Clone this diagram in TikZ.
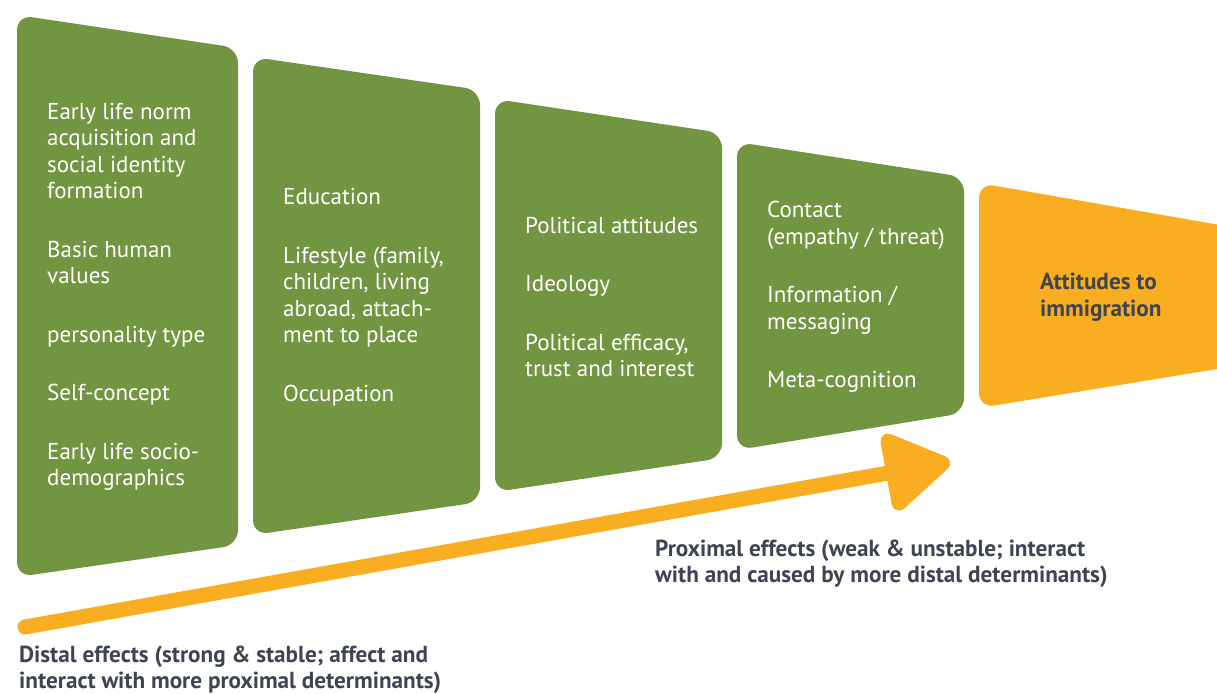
\documentclass[tikz,border=0pt]{standalone}
\usepackage{fontspec}
\setmainfont{PT Sans}
\usetikzlibrary{arrows.meta}

\begin{document}
\begin{tikzpicture}[x=1pt, y=-1pt,
  greentext/.style={anchor=west, inner sep=0pt, align=left, text=white,
    font=\fontsize{23}{26.5}\selectfont},
  darktext/.style={anchor=west, inner sep=0pt, align=left, text=darkgray,
    font=\bfseries\fontsize{23.2}{26.5}\selectfont}]

% Define colors
\definecolor{boxgreen}{RGB}{114, 149, 65}
\definecolor{boxorange}{RGB}{249, 173, 32}
\definecolor{darkgray}{RGB}{62, 68, 82}

\useasboundingbox (0, 0) rectangle (1217, 693);

% Draw the boxes
\fill[boxgreen, rounded corners=15pt] (17, 15) -- (238, 48) -- (238, 545) -- (17, 577) -- cycle;
\fill[boxgreen, rounded corners=15pt] (253, 57) -- (480, 90) -- (480, 502) -- (253, 535) -- cycle;
\fill[boxgreen, rounded corners=15pt] (495, 99) -- (722, 133) -- (722, 458) -- (495, 492) -- cycle;
\fill[boxgreen, rounded corners=15pt] (737, 142) -- (964, 177) -- (964, 413) -- (737, 450) -- cycle;
\fill[boxorange, rounded corners=15pt] (979, 183) -- (1260, 232) -- (1260, 362) -- (979, 408) -- cycle;

% Box texts
\node[greentext] (early) at (47, 297) {Early life norm\\acquisition and\\social identity\\formation\\[32pt]
  Basic human\\values\\[32pt]personality type\\[32pt]Self-concept\\[32pt]Early life socio-\\demographics};
\node[greentext] (lifestyle) at (283, 297) {Education\\[32pt]Lifestyle (family,\\children, living\\abroad, attach-\\ment to place\\[32pt]Occupation};
\node[greentext] (political) at (525, 297) {Political attitudes\\[32pt]Ideology\\[32pt]Political efficacy,\\trust and interest};
\node[greentext] (contact) at (767, 297) {Contact\\(empathy / threat)\\[32pt]Information /\\messaging\\[32pt]Meta-cognition};
\node[darktext] (attitudes) at (1040, 297) {Attitudes to\\immigration};

% The arrow
\coordinate (arrowstart) at (25, 627);
\coordinate (arrowtip) at (950, 462);
\draw[boxorange, line width=15pt, line cap=round,
  -{Triangle[length=72pt, width=86pt, round]}] (arrowstart) -- (arrowtip);

% Add the bottom text
\node[darktext] (distal) at (19, 670) {Distal effects (strong \& stable; affect and\\interact with more proximal determinants)};
\node[darktext] (proximal) at (655, 564) {Proximal effects (weak \& unstable; interact\\with and caused by more distal determinants)};

\end{tikzpicture}
\end{document}
